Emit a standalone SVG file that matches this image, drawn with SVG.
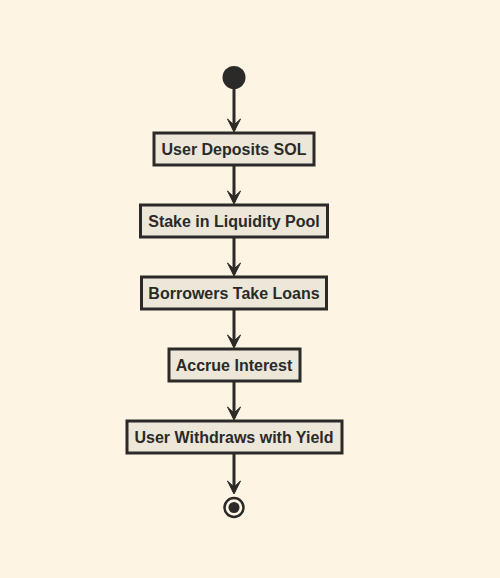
<svg xmlns="http://www.w3.org/2000/svg" width="500" height="578" viewBox="0 0 500 578">
<style>
.bg{fill:#fdf4e3}
.box rect{fill:#ece7d8;stroke:#2b2a28;stroke-width:3}
.box text{font-family:"Liberation Sans",Arial,sans-serif;font-weight:bold;font-size:16px;fill:#2b2a28;text-anchor:middle}
.conn line{stroke:#2b2a28;stroke-width:3}
.conn polygon{fill:#2b2a28;stroke:#2b2a28;stroke-width:1;stroke-linejoin:round}
</style>
<rect class="bg" x="0" y="0" width="500" height="578"/>
<g class="conn" id="connectors">
<line x1="234" y1="89" x2="234" y2="130"/>
<polygon points="227.5,119 234,132 240.5,119 234,125"/>
<line x1="234" y1="166" x2="234" y2="202"/>
<polygon points="227.5,191 234,204 240.5,191 234,197"/>
<line x1="234" y1="238" x2="234" y2="274"/>
<polygon points="227.5,263 234,276 240.5,263 234,269"/>
<line x1="234" y1="310" x2="234" y2="346"/>
<polygon points="227.5,335 234,348 240.5,335 234,341"/>
<line x1="234" y1="382" x2="234" y2="418"/>
<polygon points="227.5,407 234,420 240.5,407 234,413"/>
<line x1="234" y1="454" x2="234" y2="492"/>
<polygon points="227.5,481 234,494 240.5,481 234,487"/>
</g>
<g id="start"><circle cx="234" cy="77.5" r="11.5" fill="#2b2a28"/></g>
<g class="box" id="n1"><rect x="154" y="133" width="160" height="32"/><text x="234" y="155">User Deposits SOL</text></g>
<g class="box" id="n2"><rect x="140.5" y="205" width="187" height="32"/><text x="234" y="227">Stake in Liquidity Pool</text></g>
<g class="box" id="n3"><rect x="141.5" y="277" width="185" height="32"/><text x="234" y="299">Borrowers Take Loans</text></g>
<g class="box" id="n4"><rect x="169" y="349" width="131" height="32"/><text x="234" y="371">Accrue Interest</text></g>
<g class="box" id="n5"><rect x="127" y="421" width="215" height="32"/><text x="234" y="443">User Withdraws with Yield</text></g>
<g id="end"><circle cx="234" cy="507.5" r="9.5" fill="none" stroke="#2b2a28" stroke-width="2.5"/><circle cx="234" cy="507.5" r="5.5" fill="#2b2a28"/></g>
</svg>
